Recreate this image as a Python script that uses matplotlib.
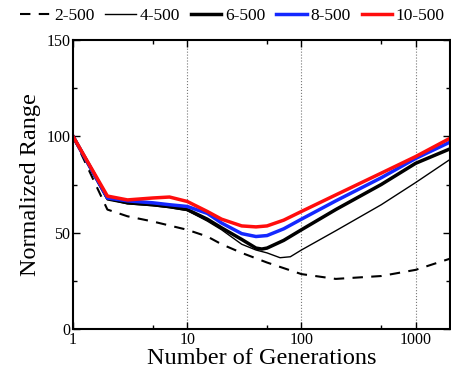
import numpy as np
import matplotlib.pyplot as plt
from matplotlib.ticker import FixedLocator, NullFormatter

plt.rcParams['font.family'] = ['Liberation Serif', 'DejaVu Serif']
plt.rcParams['mathtext.fontset'] = 'stix'

# generations sampled for each run
gen_2 = [1, 2, 3, 5, 10, 15, 20, 30, 50, 100, 200, 500, 1000, 2000]
range_2 = [100, 62, 58.5, 55.8, 51.5, 48, 44, 39.5, 34.5, 28.5, 26, 27.5, 30.7, 36.5]

gen_4 = [1, 2, 3, 5, 7, 10, 15, 20, 30, 40, 50, 65, 80, 100, 200, 500, 1000, 2000]
range_4 = [100, 67, 65, 64, 63, 61.5, 56, 51.5, 44, 41, 39.5, 37, 37.5, 41, 51, 64.5, 76, 88]

gen_6 = [1, 2, 3, 5, 7, 10, 15, 20, 30, 40, 45, 50, 70, 100, 200, 500, 1000, 2000]
range_6 = [100, 68, 65.5, 64.5, 63.5, 62, 57, 52.5, 46.5, 42, 41.5, 42, 46, 51.5, 62, 75, 86, 93.5]

gen_8 = [1, 2, 3, 5, 7, 10, 15, 20, 30, 40, 50, 70, 100, 200, 500, 1000, 2000]
range_8 = [100, 68, 66.5, 65.5, 64.5, 63.6, 60, 55, 49.5, 48, 48.5, 52, 57, 66.5, 78.5, 88.5, 97]

gen_10 = [1, 2, 3, 5, 7, 10, 15, 20, 30, 40, 50, 70, 100, 200, 500, 1000, 2000]
range_10 = [100, 69, 67, 68, 68.5, 66.2, 61, 57, 53.5, 53, 53.5, 56.5, 61, 69.6, 80.9, 89.5, 99]

fig = plt.figure(figsize=(4.51, 3.74), dpi=100)
ax = fig.add_axes([73 / 451, 45 / 374, 377 / 451, 289 / 374])

ax.plot(gen_2, range_2, color='black', lw=1.5, ls=(0, (5, 4)), label='2-500')
ax.plot(gen_4, range_4, color='black', lw=1.0, label='4-500')
ax.plot(gen_6, range_6, color='black', lw=2.5, label='6-500')
ax.plot(gen_8, range_8, color='#1428ff', lw=2.5, label='8-500')
ax.plot(gen_10, range_10, color='#ff0d0d', lw=2.5, label='10-500')

ax.set_xscale('log')
ax.set_xlim(1, 2000)
ax.set_ylim(0, 150)

ax.xaxis.set_major_locator(FixedLocator([1, 10, 100, 1000]))
ax.xaxis.set_minor_locator(FixedLocator([5, 50, 500]))
ax.xaxis.set_minor_formatter(NullFormatter())
ax.set_xticklabels(['1', '10', '100', '1000'])
ax.yaxis.set_major_locator(FixedLocator([0, 50, 100, 150]))
ax.yaxis.set_minor_locator(FixedLocator([25, 75, 125]))

ax.tick_params(which='both', direction='in', top=True, right=True, labelsize=11.5, pad=2)
ax.tick_params(which='major', length=5, width=1)
ax.tick_params(which='minor', length=3, width=1)
for s in ax.spines.values():
    s.set_linewidth(1.5)

for g in [10, 100, 1000]:
    ax.axvline(g, color='#777777', lw=0.8, ls=':', zorder=0)

ax.set_xlabel('Number of Generations', fontsize=17.5, labelpad=0)
ax.set_ylabel('Normalized Range', fontsize=17.5, labelpad=4)

fig.legend(loc='upper center', bbox_to_anchor=(0.515, 1.02), ncol=5, frameon=False,
           fontsize=12.5, handlelength=1.75, handletextpad=0.2, columnspacing=0.65)

fig.savefig('out.png', dpi=100)
